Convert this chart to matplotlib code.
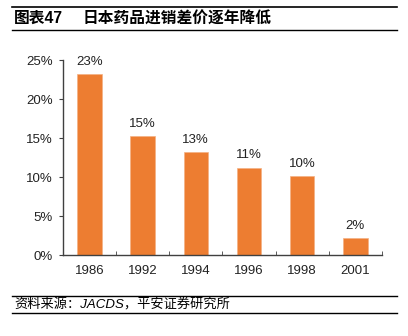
import matplotlib
matplotlib.use('Agg')
import matplotlib.pyplot as plt
from matplotlib.lines import Line2D
import numpy as np

plt.rcParams['font.family'] = ['Liberation Sans', 'Noto Sans CJK SC', 'DejaVu Sans']

# 数据
years = ['1986', '1992', '1994', '1996', '1998', '2001']
values = [23.2, 15.3, 13.2, 11.2, 10.1, 2.2]
labels = ['23%', '15%', '13%', '11%', '10%', '2%']
yticks = [0, 5, 10, 15, 20, 25]

bar_color = '#ED7D31'
axis_color = '#404040'

fig = plt.figure(figsize=(4.08, 3.36), dpi=100)
ax = fig.add_axes([0.154, 0.241, 0.782, 0.580])

x = np.arange(len(years))
ax.bar(x, values, width=0.46, color=bar_color, edgecolor='#F4B183', linewidth=0.5)
for xi, v, lab in zip(x, values, labels):
    ax.text(xi, v + 0.8, lab, ha='center', va='bottom', fontsize=9.5, color='#222222')

ax.set_xlim(-0.5, len(years) - 0.5)
ax.set_ylim(0, 25)
ax.set_yticks(yticks)
ax.set_yticklabels([f'{t}%' for t in yticks], fontsize=9.5, color='#222222')
ax.set_xticks(x)
ax.set_xticklabels(years, fontsize=9.5, color='#222222')
ax.set_xticks(np.arange(0.5, len(years) - 0.5 + 0.01, 1), minor=True)

ax.tick_params(axis='x', which='major', length=0, pad=7)
ax.tick_params(axis='x', which='minor', direction='in', length=3, color=axis_color)
ax.tick_params(axis='y', direction='out', length=3, color=axis_color, pad=4)

for s in ['top', 'right']:
    ax.spines[s].set_visible(False)
for s in ['left', 'bottom']:
    ax.spines[s].set_color(axis_color)
    ax.spines[s].set_linewidth(1.0)

# 标题和横线
x0, x1 = 12 / 408, 397 / 408
for yy, lw in [(1 - 7 / 336, 1.2), (1 - 30 / 336, 1.0), (1 - 296 / 336, 1.0), (1 - 313 / 336, 1.0)]:
    fig.add_artist(Line2D([x0, x1], [yy, yy], color='black', linewidth=lw, transform=fig.transFigure))

fig.text(14 / 408, 1 - 18.5 / 336, '图表47', fontsize=11.3, fontweight='bold', va='center')
fig.text(83 / 408, 1 - 18.5 / 336, '日本药品进销差价逐年降低', fontsize=11.3, fontweight='bold', va='center',
         family=['Noto Sans CJK SC', 'DejaVu Sans'])
fig.text(14 / 408, 1 - 304.5 / 336, '资料来源：JACDS，平安证券研究所', fontsize=9.5, style='italic', va='center')

fig.savefig('out.png', dpi=100)
